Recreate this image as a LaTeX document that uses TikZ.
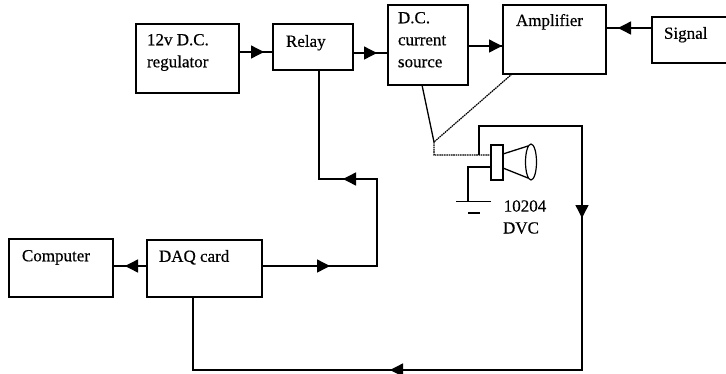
\documentclass[tikz,border=0pt]{standalone}
\usepackage{fontspec}
\setmainfont{Liberation Serif}[FakeBold=0.4]
\usetikzlibrary{arrows.meta,decorations.markings,shapes.geometric}
\tikzset{
  x=1pt,y=-1pt,
  every path/.append style={line join=miter},
  blockbox/.style={draw=black,line width=1.6pt,fill=white,inner sep=0pt,outer sep=0pt},
  wire/.style={draw=black,line width=1.4pt},
  dotwire/.style={draw=black,line width=1.2pt,dash pattern=on 1.6pt off 0.7pt},
  lbl/.style={inner sep=0pt,outer sep=0pt,font=\fontsize{17}{22}\selectfont,align=left,anchor=north west,text=black},
  clbl/.style={lbl,anchor=center,align=center},
  tipone/.style={postaction={decorate,decoration={markings,mark=at position #1pt with {\arrow{Triangle[length=13pt,width=13pt]}}}}},
  tiptwo/.style 2 args={postaction={decorate,decoration={markings,
     mark=at position #1pt with {\arrow{Triangle[length=13pt,width=13pt]}},
     mark=at position #2pt with {\arrow{Triangle[length=13pt,width=13pt]}}}}},
}
\newcommand{\blk}[5]{\node[blockbox,minimum width=#4pt,minimum height=#5pt,anchor=north west] (#1) at (#2,#3) {};}
\begin{document}
\begin{tikzpicture}
\useasboundingbox (0,0) rectangle (726,373);
% blocks
\blk{reg}{136}{24}{103}{69}
\blk{relay}{273}{24}{80}{46}
\blk{src}{388}{5}{80}{80}
\blk{amp}{503}{5}{103}{69}
\blk{sig}{652}{17}{90}{46}
\blk{comp}{9}{239}{104}{58}
\blk{daq}{147}{240}{115}{57}
% labels
\node[lbl] (treg) at (147,34) {12v D.C.\\regulator};
\node[lbl] (trelay) at (286,35) {Relay};
\node[lbl] (tsrc) at (398,12) {D.C.\\current\\source};
\node[lbl] (tamp) at (516,14) {Amplifier};
\node[lbl] (tsig) at (664,27) {Signal};
\node[lbl] (tcomp) at (22,250) {Computer};
\node[lbl] (tdaq) at (159,250) {DAQ card};
\node[clbl] (tnum) at (525,206) {10204};
\node[clbl] (tdvc) at (521,228) {DVC};
% named bend points
\coordinate (rdA) at (377,266);
\coordinate (rdB) at (377,179);
\coordinate (rdC) at (319,179);
\coordinate (loopA) at (479,155);
\coordinate (loopB) at (479,126);
\coordinate (loopC) at (582,126);
\coordinate (loopD) at (582,370);
\coordinate (loopE) at (193,370);
\coordinate (junc) at (434,142);
\coordinate (juncB) at (434,155);
\coordinate (srcOut) at (422,85);
\coordinate (ampOut) at (512,74);
\coordinate (gndA) at (468,167);
\coordinate (gndB) at (468,201);
\coordinate (gndL) at (456,201);
\coordinate (gndR) at (491,201);
\coordinate (gndS) at (468,213);
\coordinate (gndT) at (480,213);
% horizontal connectors
\path[wire,tipone=25] (reg.east |- 0,52) -- (relay.west |- 0,52);
\path[wire,tipone=24] (relay.east |- 0,53) -- (src.west |- 0,53);
\path[wire,tipone=34] (src.east |- 0,46) -- (amp.west |- 0,46);
\path[wire,tipone=34] (sig.west |- 0,28) -- (amp.east |- 0,28);
\path[wire,tipone=22] (daq.west |- 0,266) -- (comp.east |- 0,266);
% DAQ to relay
\path[wire,tiptwo={68}{236}] (daq.east |- rdA) -- (rdA) -- (rdB) -- (rdC) -- (relay.south -| rdC);
% Speaker loop back to DAQ
\path[wire,tiptwo={224}{568}] (loopA) -- (loopB) -- (loopC) -- (loopD) -- (loopE) -- (daq.south -| loopE);
% source and amplifier feed
\draw[line width=1.3pt] (srcOut) -- (junc);
\draw[dotwire] (ampOut) -- (junc) -- (juncB) -- (491,155);
% speaker
\node[draw=black,line width=1.5pt,fill=white,minimum width=12pt,minimum height=35pt,inner sep=0pt,outer sep=0pt,anchor=north west] (coil) at (491,145) {};
\node[draw=black,line width=1.2pt,ellipse,minimum width=11pt,minimum height=36pt,inner sep=0pt,outer sep=0pt] (cone) at (531,162) {};
\draw[line width=1.3pt] (503,154) -- (528,146);
\draw[line width=1.3pt] (503,168) -- (528,178);
% ground
\draw[line width=1.3pt] (coil.west |- gndA) -- (gndA) -- (gndB);
\draw[line width=1pt] (gndL) -- (gndR);
\draw[line width=1.3pt] (gndS) -- (gndT);
\end{tikzpicture}
\end{document}
